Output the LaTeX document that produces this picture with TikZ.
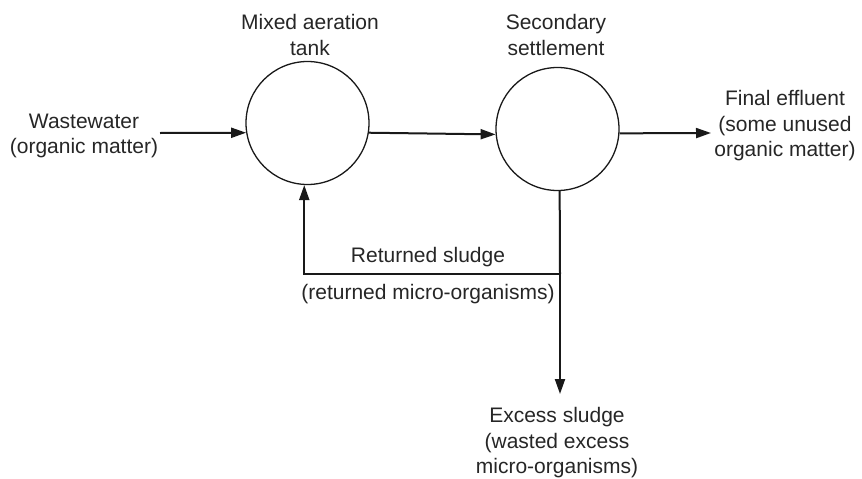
\documentclass[tikz,border=0pt]{standalone}
\usepackage{fontspec}
\setmainfont{Liberation Sans}
\usetikzlibrary{arrows.meta}
\begin{document}
\begin{tikzpicture}[x=1pt,y=-1pt,
 lbl/.style={font=\fontsize{21}{25.5}\selectfont, align=center, inner sep=0pt, text=black!85},
 tank/.style={circle, draw=black!90, line width=1.3pt, minimum size=123pt, inner sep=0pt},
 flow/.style={line width=2pt, draw=black!90, -{Triangle[length=15pt,width=10pt]}},
 pipe/.style={line width=2pt, draw=black!90}]
\useasboundingbox (0,0) rectangle (862,479);
\node[tank] (c1) at (307.5,123) {};
\node[tank] (c2) at (557.5,129) {};
\coordinate (win) at (160,133);
\coordinate (eff) at (711,133);
\coordinate (j) at (560,274);
\coordinate (ex) at (560,394);
\draw[flow] (win) -- (c1.189);
\draw[flow] (c1.351) -- (c2.185);
\draw[flow] (c2.356) -- (eff);
\draw[pipe] (c2.272) -- (j);
\draw[flow] (j) -- (ex);
\draw[flow] (j) -| (c1.267);
\node[lbl] (mat) at (310,35) {Mixed aeration\\tank};
\node[lbl] (sec) at (556,35) {Secondary\\settlement};
\node[lbl] (ww) at (84,136) {Wastewater\\(organic matter)};
\node[lbl] (fe) at (785,126) {Final effluent\\(some unused\\organic matter)};
\node[lbl] (rs) at (428,257) {Returned sludge};
\node[lbl] (rm) at (428,294) {(returned micro-organisms)};
\node[lbl] (es) at (557,443) {Excess sludge\\(wasted excess\\micro-organisms)};
\end{tikzpicture}
\end{document}
